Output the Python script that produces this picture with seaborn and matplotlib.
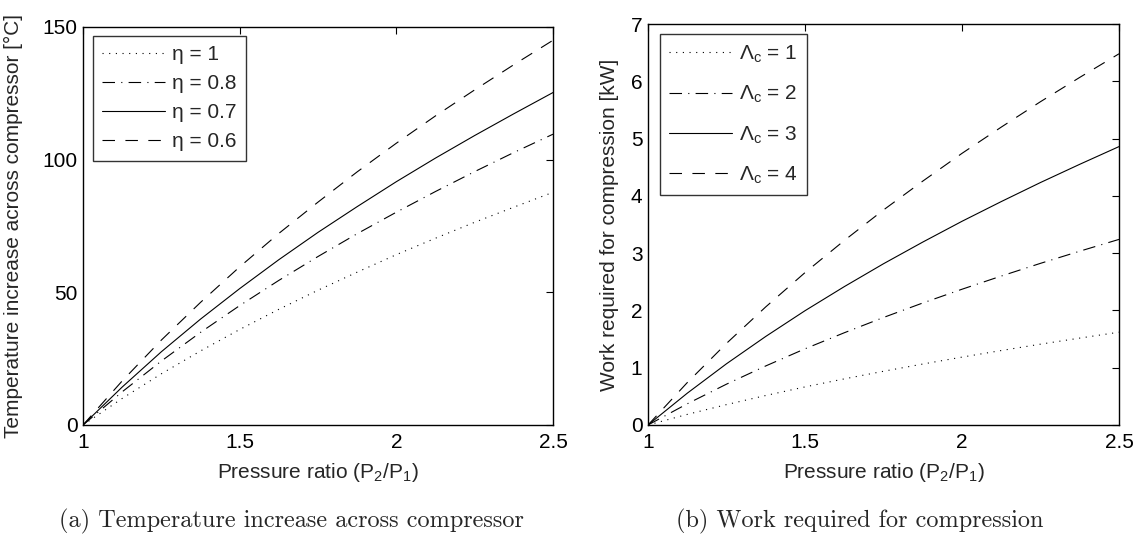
import matplotlib
matplotlib.use("Agg")
import matplotlib.pyplot as plt
import seaborn as sns
import pandas as pd

# ---- data ----
pressure_ratio = [1.0, 1.125, 1.25, 1.375, 1.5, 1.625, 1.75, 1.875, 2.0, 2.125, 2.25, 2.375, 2.5]

temp_eta_1 = [0, 10.0, 19.3, 27.9, 36.0, 43.6, 50.8, 57.6, 64.2, 70.4, 76.4, 82.1, 87.7]
temp_eta_08 = [0, 12.5, 24.1, 34.9, 45.0, 54.5, 63.5, 72.1, 80.2, 88.0, 95.5, 102.7, 109.6]
temp_eta_07 = [0, 14.3, 27.6, 39.9, 51.4, 62.3, 72.6, 82.3, 91.7, 100.6, 109.1, 117.3, 125.3]
temp_eta_06 = [0, 16.6, 32.0, 46.2, 59.6, 72.2, 84.0, 95.4, 106.2, 116.5, 126.3, 135.8, 145.0]

work_lc_1 = [0, 0.185, 0.356, 0.515, 0.665, 0.805, 0.938, 1.064, 1.185, 1.300, 1.411, 1.517, 1.62]
work_lc_2 = [0, 0.37, 0.713, 1.031, 1.33, 1.61, 1.877, 2.13, 2.37, 2.60, 2.822, 3.034, 3.24]
work_lc_3 = [0, 0.555, 1.069, 1.546, 1.995, 2.415, 2.815, 3.193, 3.556, 3.90, 4.233, 4.551, 4.86]
work_lc_4 = [0, 0.74, 1.425, 2.062, 2.66, 3.22, 3.754, 4.257, 4.742, 5.20, 5.644, 6.068, 6.48]

left_labels = ["η = 1", "η = 0.8", "η = 0.7", "η = 0.6"]
right_labels = ["Λ$_\\mathrm{c}$ = 1", "Λ$_\\mathrm{c}$ = 2", "Λ$_\\mathrm{c}$ = 3", "Λ$_\\mathrm{c}$ = 4"]

x_ticks = [1, 1.5, 2, 2.5]
x_ticklabels = ["1", "1.5", "2", "2.5"]
left_yticks = [0, 50, 100, 150]
right_yticks = [0, 1, 2, 3, 4, 5, 6, 7]

# ---- style ----
sns.set_style("white")
plt.rcParams["font.family"] = ["Liberation Sans", "DejaVu Sans"]
plt.rcParams["mathtext.fontset"] = "custom"
plt.rcParams["mathtext.rm"] = "Liberation Sans"
plt.rcParams["mathtext.it"] = "Liberation Sans"
plt.rcParams["mathtext.bf"] = "Liberation Sans"
plt.rcParams["mathtext.sf"] = "Liberation Sans"
plt.rcParams["lines.scale_dashes"] = False

styles = [
    (0, (0.8, 4.0)),              # dotted
    (0, (9.0, 4.5, 0.8, 4.5)),    # dash-dot
    "-",                          # solid
    (0, (9.0, 7.5)),              # dashed
]

W, H = 1140, 536
fig = plt.figure(figsize=(W / 100, H / 100), dpi=100)
ax1 = fig.add_axes([83 / W, 1 - 425 / H, 470 / W, 398 / H])
ax2 = fig.add_axes([648 / W, 1 - 425 / H, 471 / W, 401 / H])

FS = 15

def draw(ax, series, labels, yticks, ylabel, leg_off, labelspacing, ylabel_x):
    for ys, lab, ls in zip(series, labels, styles):
        df = pd.DataFrame({"x": pressure_ratio, "y": ys})
        sns.lineplot(data=df, x="x", y="y", ax=ax, color="black",
                     linestyle=ls, linewidth=0.8, label=lab)
    ax.set_xlim(1, 2.5)
    ax.set_ylim(yticks[0], yticks[-1])
    ax.set_xticks(x_ticks)
    ax.set_xticklabels(x_ticklabels)
    ax.set_yticks(yticks)
    ax.tick_params(direction="in", top=True, right=True, length=5,
                   width=0.8, labelsize=FS, colors="black")
    ax.tick_params(axis="x", pad=6)
    ax.tick_params(axis="y", pad=4)
    for sp in ax.spines.values():
        sp.set_visible(True)
        sp.set_color("black")
        sp.set_linewidth(1.0)
    ax.set_xlabel("Pressure ratio (P$_2$/P$_1$)", fontsize=FS, labelpad=6)
    ax.set_ylabel(ylabel, fontsize=FS)
    ax.yaxis.set_label_coords(ylabel_x, 0.5)
    bbox = ax.get_position()
    axw, axh = bbox.width * W, bbox.height * H
    leg = ax.legend(loc="upper left",
                    bbox_to_anchor=(leg_off[0] / axw, 1 - leg_off[1] / axh),
                    fontsize=FS, frameon=True, fancybox=False,
                    handlelength=3.0, handletextpad=0.33,
                    labelspacing=labelspacing,
                    borderpad=0.45, borderaxespad=0.0)
    leg.get_frame().set_edgecolor("black")
    leg.get_frame().set_linewidth(1.0)

draw(ax1, [temp_eta_1, temp_eta_08, temp_eta_07, temp_eta_06], left_labels,
     left_yticks, "Temperature increase across compressor [°C]", (10, 9), 0.48,
     -(83 - 23) / 470)
draw(ax2, [work_lc_1, work_lc_2, work_lc_3, work_lc_4], right_labels,
     right_yticks, "Work required for compression [kW]", (12, 10), 0.92,
     -(648 - 619) / 471)

fig.text(291 / W, 1 - 521 / H, "(a) Temperature increase across compressor",
         ha="center", va="center", fontsize=17.5, family="cmr10")
fig.text(860 / W, 1 - 521 / H, "(b) Work required for compression",
         ha="center", va="center", fontsize=17.5, family="cmr10")

fig.savefig("out.png", dpi=100)
